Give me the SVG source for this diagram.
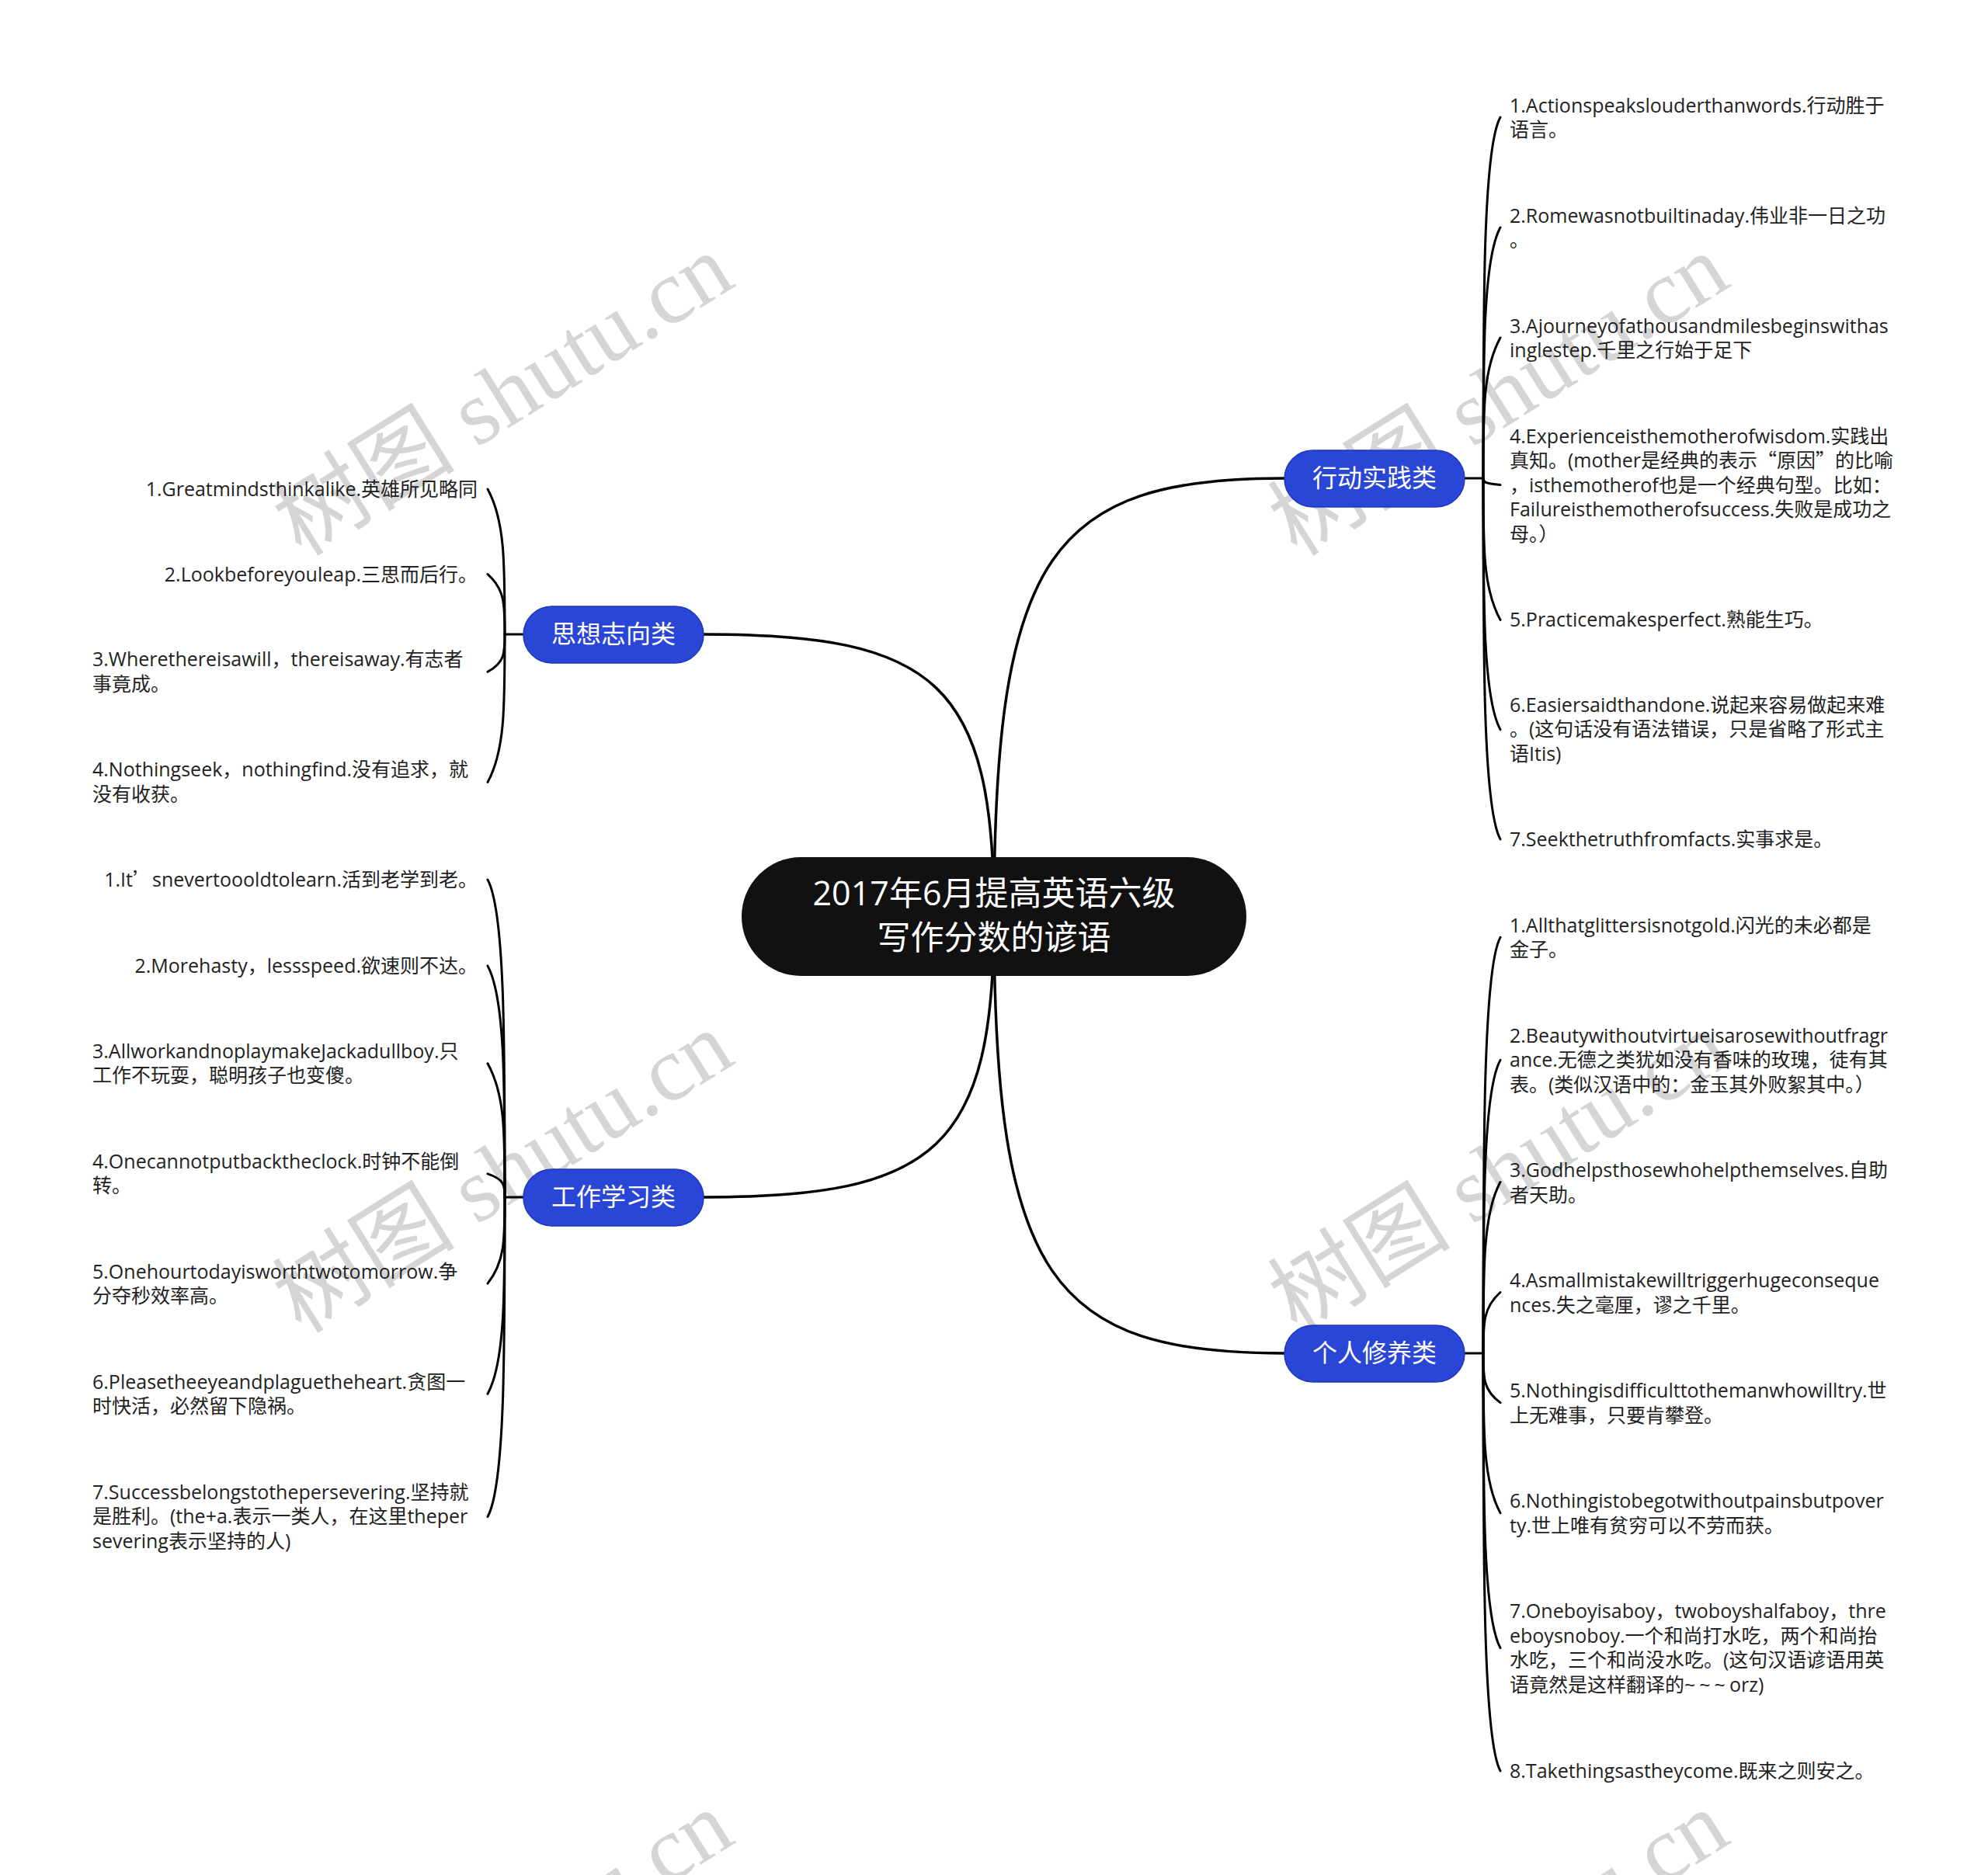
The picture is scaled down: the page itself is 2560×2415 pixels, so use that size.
<svg xmlns="http://www.w3.org/2000/svg" width="2560" height="2415" viewBox="0 0 2560 2415">
<style>
.leaf{font-family:"Open Sans","Noto Sans CJK SC",sans-serif;font-size:25px;fill:#222}
.end{text-anchor:end}
.cjk{font-family:"Noto Sans CJK SC",sans-serif}
.br{fill:#2a46d6;stroke:#1f38b8;stroke-width:1.5}
.brt{font-family:"Noto Sans CJK SC",sans-serif;font-size:32px;fill:#fff;text-anchor:middle}
.root{fill:#111}
.roott{font-family:"Open Sans","Noto Sans CJK SC",sans-serif;font-size:43px;fill:#fff;text-anchor:middle}
.main{fill:none;stroke:#000;stroke-width:3.5;stroke-linecap:round}
.lk{fill:none;stroke:#000;stroke-width:3;stroke-linecap:round}
.wm{font-family:"Liberation Serif","Noto Sans CJK SC",serif;font-size:118px;fill:#d5d5d5;text-anchor:middle;dominant-baseline:central}
</style>
<rect width="2560" height="2415" fill="#fff"/>
<g id="watermarks">
<text class="wm" transform="translate(648 509) rotate(-32)">树图 shutu.cn</text>
<text class="wm" transform="translate(1930 509) rotate(-32)">树图 shutu.cn</text>
<text class="wm" transform="translate(648 1510) rotate(-32)">树图 shutu.cn</text>
<text class="wm" transform="translate(1930 1510) rotate(-32)">树图 shutu.cn</text>
<text class="wm" transform="translate(648 2514) rotate(-32)">树图 shutu.cn</text>
<text class="wm" transform="translate(1930 2514) rotate(-32)">树图 shutu.cn</text>
</g>
<g id="connectors">
<path class="main" d="M1280 1180 C1280 712 1355 616 1654 616"/>
<path class="main" d="M1280 1180 C1280 879 1205 817 906 817"/>
<path class="main" d="M1280 1180 C1280 1480 1205 1542 906 1542"/>
<path class="main" d="M1280 1180 C1280 1647 1355 1743 1654 1743"/>
<path class="lk" d="M1886 616 L1910 616"/>
<path class="lk" d="M1910 616 C1910 383.5 1910 191 1932 151"/>
<path class="lk" d="M1910 616 C1910 454.5 1910 333 1932 293"/>
<path class="lk" d="M1910 616 C1910 525.5 1910 475 1932 435"/>
<path class="lk" d="M1910 616 C1910 620.3 1910 622.4 1932 624.5"/>
<path class="lk" d="M1910 616 C1910 707.2 1910 758.4 1932 798.4"/>
<path class="lk" d="M1910 616 C1910 777.8 1910 899.6 1932 939.6"/>
<path class="lk" d="M1910 616 C1910 848.5 1910 1040.9 1932 1080.9"/>
<path class="lk" d="M1886 1743 L1910 1743"/>
<path class="lk" d="M1910 1743 C1910 1475.2 1910 1247.4 1932 1207.4"/>
<path class="lk" d="M1910 1743 C1910 1554.2 1910 1405.4 1932 1365.4"/>
<path class="lk" d="M1910 1743 C1910 1632.8 1910 1562.5 1932 1522.5"/>
<path class="lk" d="M1910 1743 C1910 1703.8 1910 1684.1 1932 1664.5"/>
<path class="lk" d="M1910 1743 C1910 1774.8 1910 1790.7 1932 1806.6"/>
<path class="lk" d="M1910 1743 C1910 1845.8 1910 1908.6 1932 1948.6"/>
<path class="lk" d="M1910 1743 C1910 1932.8 1910 2082.5 1932 2122.5"/>
<path class="lk" d="M1910 1743 C1910 2012 1910 2240.9 1932 2280.9"/>
<path class="lk" d="M674 817 L650 817"/>
<path class="lk" d="M650 817 C650 723.5 650 670 628 630"/>
<path class="lk" d="M650 817 C650 778.3 650 759 628 739.6"/>
<path class="lk" d="M650 817 C650 841.2 650 853.2 628 865.3"/>
<path class="lk" d="M650 817 C650 912.2 650 967.4 628 1007.4"/>
<path class="lk" d="M674 1542 L650 1542"/>
<path class="lk" d="M650 1542 C650 1337.6 650 1173.1 628 1133.1"/>
<path class="lk" d="M650 1542 C650 1393.1 650 1284.1 628 1244.1"/>
<path class="lk" d="M650 1542 C650 1455.9 650 1409.8 628 1369.8"/>
<path class="lk" d="M650 1542 C650 1527 650 1519.4 628 1511.9"/>
<path class="lk" d="M650 1542 C650 1597.6 650 1625.3 628 1653.1"/>
<path class="lk" d="M650 1542 C650 1668.6 650 1755.2 628 1795.2"/>
<path class="lk" d="M650 1542 C650 1747.8 650 1913.5 628 1953.5"/>
</g>
<g id="root">
<rect class="root" x="955" y="1104" width="650" height="153" rx="76.5"/>
<text class="roott" x="1280" y="1166">2017年6月提高英语六级</text>
<text class="roott" x="1280" y="1223">写作分数的谚语</text>
</g>
<g id="b-xingdong">
<rect class="br" x="1654" y="580" width="232" height="73" rx="36.5"/>
<text class="brt" x="1770" y="627">行动实践类</text>
</g>
<g id="b-sixiang">
<rect class="br" x="674" y="781" width="232" height="73" rx="36.5"/>
<text class="brt" x="790" y="828">思想志向类</text>
</g>
<g id="b-gongzuo">
<rect class="br" x="674" y="1506" width="232" height="73" rx="36.5"/>
<text class="brt" x="790" y="1553">工作学习类</text>
</g>
<g id="b-geren">
<rect class="br" x="1654" y="1707" width="232" height="73" rx="36.5"/>
<text class="brt" x="1770" y="1754">个人修养类</text>
</g>
<g id="l-xd1"><text class="leaf" x="1944" y="144.5">1.Actionspeakslouderthanwords.行动胜于<tspan x="1944" dy="31.5">语言。</tspan></text></g>
<g id="l-xd2"><text class="leaf" x="1944" y="286.6">2.Romewasnotbuiltinaday.伟业非一日之功<tspan x="1944" dy="31.5">。</tspan></text></g>
<g id="l-xd3"><text class="leaf" x="1944" y="428.6">3.Ajourneyofathousandmilesbeginswithas<tspan x="1944" dy="31.5">inglestep.千里之行始于足下</tspan></text></g>
<g id="l-xd4"><text class="leaf" x="1944" y="570.6">4.Experienceisthemotherofwisdom.实践出<tspan x="1944" dy="31.5">真知。(mother是经典的表示<tspan class="cjk">“</tspan>原因<tspan class="cjk">”</tspan>的比喻</tspan><tspan x="1944" dy="31.5">，isthemotherof也是一个经典句型。比如：</tspan><tspan x="1944" dy="31.5">Failureisthemotherofsuccess.失败是成功之</tspan><tspan x="1944" dy="31.5">母。）</tspan></text></g>
<g id="l-xd5"><text class="leaf" x="1944" y="807.4">5.Practicemakesperfect.熟能生巧。</text></g>
<g id="l-xd6"><text class="leaf" x="1944" y="916.8">6.Easiersaidthandone.说起来容易做起来难<tspan x="1944" dy="31.5">。(这句话没有语法错误，只是省略了形式主</tspan><tspan x="1944" dy="31.5">语Itis)</tspan></text></g>
<g id="l-xd7"><text class="leaf" x="1944" y="1089.9">7.Seekthetruthfromfacts.实事求是。</text></g>
<g id="l-gr1"><text class="leaf" x="1944" y="1200.9">1.Allthatglittersisnotgold.闪光的未必都是<tspan x="1944" dy="31.5">金子。</tspan></text></g>
<g id="l-gr2"><text class="leaf" x="1944" y="1342.9">2.Beautywithoutvirtueisarosewithoutfragr<tspan x="1944" dy="31.5">ance.无德之类犹如没有香味的玫瑰，徒有其</tspan><tspan x="1944" dy="31.5">表。(类似汉语中的：金玉其外败絮其中。）</tspan></text></g>
<g id="l-gr3"><text class="leaf" x="1944" y="1516">3.Godhelpsthosewhohelpthemselves.自助<tspan x="1944" dy="31.5">者天助。</tspan></text></g>
<g id="l-gr4"><text class="leaf" x="1944" y="1658">4.Asmallmistakewilltriggerhugeconseque<tspan x="1944" dy="31.5">nces.失之毫厘，谬之千里。</tspan></text></g>
<g id="l-gr5"><text class="leaf" x="1944" y="1800">5.Nothingisdifficulttothemanwhowilltry.世<tspan x="1944" dy="31.5">上无难事，只要肯攀登。</tspan></text></g>
<g id="l-gr6"><text class="leaf" x="1944" y="1942.1">6.Nothingistobegotwithoutpainsbutpover<tspan x="1944" dy="31.5">ty.世上唯有贫穷可以不劳而获。</tspan></text></g>
<g id="l-gr7"><text class="leaf" x="1944" y="2084.2">7.Oneboyisaboy，twoboyshalfaboy，thre<tspan x="1944" dy="31.5">eboysnoboy.一个和尚打水吃，两个和尚抬</tspan><tspan x="1944" dy="31.5">水吃，三个和尚没水吃。(这句汉语谚语用英</tspan><tspan x="1944" dy="31.5">语竟然是这样翻译的<tspan letter-spacing="5">~~~</tspan>orz)</tspan></text></g>
<g id="l-gr8"><text class="leaf" x="1944" y="2289.9">8.Takethingsastheycome.既来之则安之。</text></g>
<g id="l-sx1"><text class="leaf end" x="615" y="639">1.Greatmindsthinkalike.英雄所见略同</text></g>
<g id="l-sx2"><text class="leaf end" x="615" y="748.6">2.Lookbeforeyouleap.三思而后行。</text></g>
<g id="l-sx3"><text class="leaf" x="119" y="858">3.Wherethereisawill，thereisaway.有志者<tspan x="119" dy="31.5">事竟成。</tspan></text></g>
<g id="l-sx4"><text class="leaf" x="119" y="1000">4.Nothingseek，nothingfind.没有追求，就<tspan x="119" dy="31.5">没有收获。</tspan></text></g>
<g id="l-gz1"><text class="leaf end" x="615" y="1142">1.It<tspan class="cjk">’</tspan>snevertoooldtolearn.活到老学到老。</text></g>
<g id="l-gz2"><text class="leaf end" x="615" y="1253">2.Morehasty，lessspeed.欲速则不达。</text></g>
<g id="l-gz3"><text class="leaf" x="119" y="1362.5">3.AllworkandnoplaymakeJackadullboy.只<tspan x="119" dy="31.5">工作不玩耍，聪明孩子也变傻。</tspan></text></g>
<g id="l-gz4"><text class="leaf" x="119" y="1504.5">4.Onecannotputbacktheclock.时钟不能倒<tspan x="119" dy="31.5">转。</tspan></text></g>
<g id="l-gz5"><text class="leaf" x="119" y="1646.6">5.Onehourtodayisworthtwotomorrow.争<tspan x="119" dy="31.5">分夺秒效率高。</tspan></text></g>
<g id="l-gz6"><text class="leaf" x="119" y="1788.6">6.Pleasetheeyeandplaguetheheart.贪图一<tspan x="119" dy="31.5">时快活，必然留下隐祸。</tspan></text></g>
<g id="l-gz7"><text class="leaf" x="119" y="1930.7">7.Successbelongstothepersevering.坚持就<tspan x="119" dy="31.5">是胜利。(the+a.表示一类人，在这里theper</tspan><tspan x="119" dy="31.5">severing表示坚持的人)</tspan></text></g>
</svg>
